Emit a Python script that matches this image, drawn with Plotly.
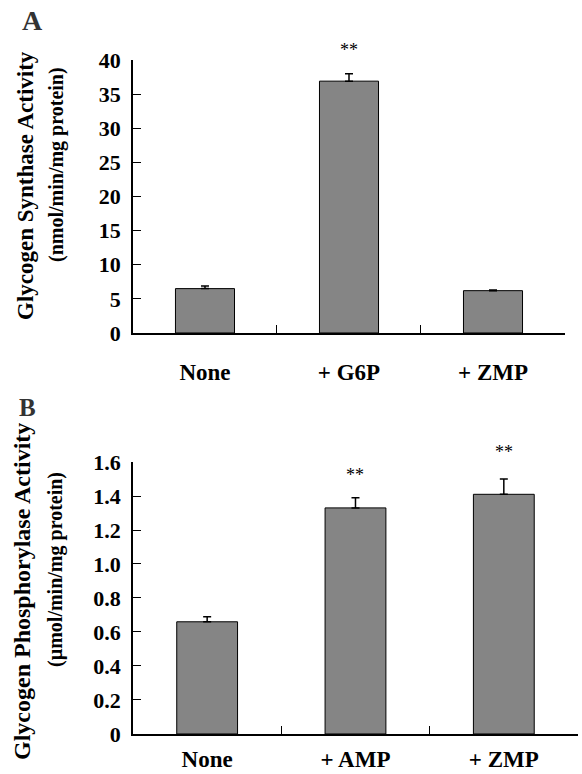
import plotly.graph_objects as go

# Panel A data
cats_a = ["None", "+ G6P", "+ ZMP"]
gs_mean = [6.5, 36.9, 6.2]
gs_err = [0.4, 1.1, 0.1]
gs_sig = ["", "**", ""]

# Panel B data
cats_b = ["None", "+ AMP", "+ ZMP"]
gp_mean = [0.66, 1.33, 1.41]
gp_err = [0.03, 0.06, 0.09]
gp_sig = ["", "**", "**"]

ticks_a = [0, 5, 10, 15, 20, 25, 30, 35, 40]
ticks_b = [0, 0.2, 0.4, 0.6, 0.8, 1.0, 1.2, 1.4, 1.6]
ticktext_b = ["0", "0.2", "0.4", "0.6", "0.8", "1.0", "1.2", "1.4", "1.6"]

FONT = "Liberation Serif"
BAR = "#858585"

fig = go.Figure()
fig.add_trace(go.Bar(
    x=cats_a, y=gs_mean, width=0.41, xaxis="x", yaxis="y",
    marker=dict(color=BAR, line=dict(color="black", width=1)),
    error_y=dict(type="data", symmetric=False, array=gs_err, arrayminus=[0]*3,
                 color="black", thickness=1.5, width=4),
    showlegend=False))
fig.add_trace(go.Bar(
    x=cats_b, y=gp_mean, width=0.41, xaxis="x2", yaxis="y2",
    marker=dict(color=BAR, line=dict(color="black", width=1)),
    error_y=dict(type="data", symmetric=False, array=gp_err, arrayminus=[0]*3,
                 color="black", thickness=1.5, width=4),
    showlegend=False))

tickfont = dict(family=FONT, size=22, color="black", weight="bold")
xfont = dict(family=FONT, size=23, color="black", weight="bold")

common_x = dict(type="category", tickson="boundaries", ticks="inside", ticklen=8,
                tickwidth=1.2, tickcolor="black", showline=True, linecolor="black",
                linewidth=1.5, showgrid=False, zeroline=False, tickfont=xfont,
                range=[-0.5, 2.5], automargin=False)
common_y = dict(ticks="inside", ticklen=8, tickwidth=1.2, tickcolor="black",
                showline=True, linecolor="black", linewidth=1.5, showgrid=False,
                zeroline=False, tickfont=tickfont, ticklabelstandoff=6, automargin=False)

fig.update_layout(
    template="none",
    width=582, height=774, margin=dict(l=0, r=0, t=0, b=0, autoexpand=False),
    paper_bgcolor="white", plot_bgcolor="white",
    xaxis=dict(domain=[0.2285, 0.9708], anchor="y", ticklabelstandoff=18, **common_x),
    yaxis=dict(domain=[0.5698, 0.9225], anchor="x", range=[0, 40],
               tickvals=ticks_a, **common_y),
    xaxis2=dict(domain=[0.2285, 0.9931], anchor="y2", ticklabelstandoff=4, **common_x),
    yaxis2=dict(domain=[0.0517, 0.4031], anchor="x2", range=[0, 1.6],
                tickvals=ticks_b, ticktext=ticktext_b, **common_y),
)

ann = []
for c, m, e, s in zip(cats_a, gs_mean, gs_err, gs_sig):
    if s:
        ann.append(dict(x=c, y=m + e, xref="x", yref="y", text=s, showarrow=False,
                        yanchor="bottom", yshift=12,
                        font=dict(family=FONT, size=18, color="black")))
shifts_b = [12, 11, 15]
for c, m, e, s, sh in zip(cats_b, gp_mean, gp_err, gp_sig, shifts_b):
    if s:
        ann.append(dict(x=c, y=m + e, xref="x2", yref="y2", text=s, showarrow=False,
                        yanchor="bottom", yshift=sh,
                        font=dict(family=FONT, size=18, color="black")))

# axis titles and panel letters
ann += [
    dict(x=25/582, y=1-186/774, xref="paper", yref="paper", text="Glycogen Synthase Activity",
         textangle=-90, showarrow=False, xanchor="center", yanchor="middle",
         font=dict(family=FONT, size=23, color="black", weight="bold")),
    dict(x=57/582, y=1-165/774, xref="paper", yref="paper", text="(nmol/min/mg protein)",
         textangle=-90, showarrow=False, xanchor="center", yanchor="middle",
         font=dict(family=FONT, size=20, color="black", weight="bold")),
    dict(x=22/582, y=1-592/774, xref="paper", yref="paper", text="Glycogen Phosphorylase Activity",
         textangle=-90, showarrow=False, xanchor="center", yanchor="middle",
         font=dict(family=FONT, size=24, color="black", weight="bold")),
    dict(x=55/582, y=1-570/774, xref="paper", yref="paper", text="(µmol/min/mg protein)",
         textangle=-90, showarrow=False, xanchor="center", yanchor="middle",
         font=dict(family=FONT, size=20, color="black", weight="bold")),
    dict(x=32/582, y=1-20/774, xref="paper", yref="paper", text="A", showarrow=False,
         xanchor="center", yanchor="middle",
         font=dict(family=FONT, size=28, color="#333333", weight="bold")),
    dict(x=27/582, y=1-407/774, xref="paper", yref="paper", text="B", showarrow=False,
         xanchor="center", yanchor="middle",
         font=dict(family=FONT, size=25, color="#333333", weight="bold")),
]
fig.update_layout(annotations=ann)

fig.write_html("out.html")
